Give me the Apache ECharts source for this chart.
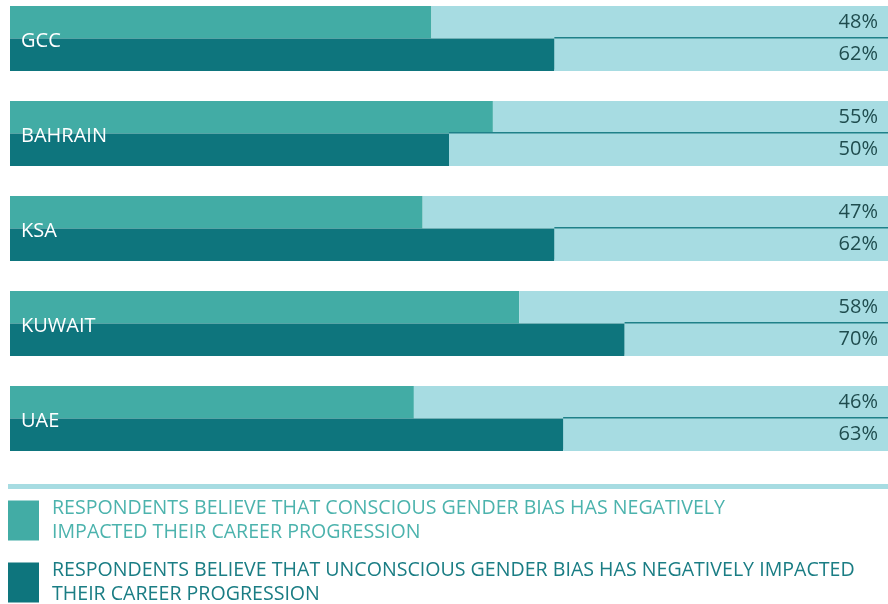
<!DOCTYPE html>
<html>
<head>
<meta charset="utf-8">
<script src="https://cdn.jsdelivr.net/npm/echarts@6/dist/echarts.min.js"></script>
<style>
  html, body { margin: 0; padding: 0; background: #ffffff; overflow: hidden; }
  body { position: relative; width: 888px; height: 604px; }
  /* the canvas starts slightly above the page so the first row sits near the top edge */
  #chart { position: absolute; left: 0; top: -9px; width: 888px; height: 613px; }
</style>
</head>
<body>
<div id="chart"></div>
<script>
// Survey results by country (percent of respondents)
const categories = ['GCC', 'BAHRAIN', 'KSA', 'KUWAIT', 'UAE'];
const conscious = [48, 55, 47, 58, 46];
const unconscious = [62, 50, 62, 70, 63];
const legendNames = [
  'RESPONDENTS BELIEVE THAT CONSCIOUS GENDER BIAS HAS NEGATIVELY IMPACTED THEIR CAREER PROGRESSION',
  'RESPONDENTS BELIEVE THAT UNCONSCIOUS GENDER BIAS HAS NEGATIVELY IMPACTED THEIR CAREER PROGRESSION'
];
const legendLines = [
  'RESPONDENTS BELIEVE THAT CONSCIOUS GENDER BIAS HAS NEGATIVELY\nIMPACTED THEIR CAREER PROGRESSION',
  'RESPONDENTS BELIEVE THAT UNCONSCIOUS GENDER BIAS HAS NEGATIVELY IMPACTED\nTHEIR CAREER PROGRESSION'
];

const C_LIGHT = '#42aca5';
const C_DARK = '#0e757d';
const C_TRACK = '#a7dce2';
const FONT = '"Open Sans", "DejaVu Sans", sans-serif';

const remainder = arr => arr.map(v => 100 - v);

const valueLabel = src => ({
  show: true,
  position: 'insideRight',
  distance: 10,
  color: '#1f4c4e',
  fontSize: 20,
  fontFamily: FONT,
  formatter: p => src[p.dataIndex] + '%'
});

const chart = echarts.init(document.getElementById('chart'), null, { renderer: 'canvas' });

chart.setOption({
  animation: false,
  textStyle: { fontFamily: FONT },
  grid: { left: 10, right: 0, top: 0, height: 475 },
  xAxis: { type: 'value', min: 0, max: 100, show: false },
  yAxis: {
    type: 'category',
    data: categories,
    inverse: true,
    z: 10,
    axisLine: { show: false },
    axisTick: { show: false },
    splitLine: { show: false },
    axisLabel: {
      inside: true,
      margin: 11,
      formatter: v => '{name|' + v + '}',
      rich: {
        name: {
          color: '#ffffff',
          fontSize: 20,
          fontFamily: FONT,
          padding: [6, 0, 0, 0]
        }
      }
    }
  },
  legend: {
    orient: 'vertical',
    left: 8,
    top: 506,
    height: 140,
    padding: 0,
    itemWidth: 31,
    itemHeight: 40,
    itemGap: 15,
    icon: 'rect',
    selectedMode: false,
    formatter: name => legendLines[legendNames.indexOf(name)],
    textStyle: { fontSize: 19.6, lineHeight: 23.5, fontFamily: FONT, padding: [0, 0, 0, 8] },
    data: [
      { name: legendNames[0], textStyle: { color: '#4cb3ad' } },
      { name: legendNames[1], textStyle: { color: '#1a7d84' } }
    ]
  },
  graphic: [
    { type: 'rect', left: 8, top: 493, shape: { width: 880, height: 5 }, style: { fill: C_TRACK } }
  ],
  series: [
    {
      name: legendNames[0], type: 'bar', stack: 'c', barWidth: 32.5, barGap: 0,
      itemStyle: { color: C_LIGHT }, data: conscious
    },
    {
      name: 'conscious-rest', type: 'bar', stack: 'c', barWidth: 32.5,
      itemStyle: { color: C_TRACK }, label: valueLabel(conscious), data: remainder(conscious)
    },
    {
      name: legendNames[1], type: 'bar', stack: 'u', barWidth: 32.5,
      itemStyle: { color: C_DARK }, data: unconscious
    },
    {
      name: 'unconscious-rest', type: 'bar', stack: 'u', barWidth: 32.5,
      itemStyle: { color: C_TRACK, shadowColor: '#1f8189', shadowBlur: 0, shadowOffsetY: -1.5 },
      label: valueLabel(unconscious), data: remainder(unconscious)
    }
  ]
});
</script>
</body>
</html>
